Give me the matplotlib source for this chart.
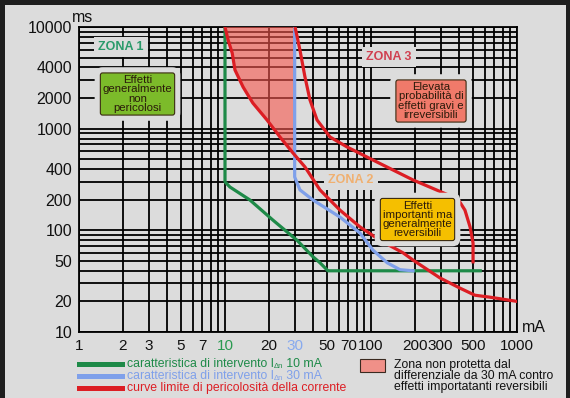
import matplotlib.pyplot as plt
from matplotlib.patches import Rectangle
from matplotlib.lines import Line2D
from matplotlib.ticker import FixedLocator, NullFormatter

plt.rcParams['font.family'] = ['Liberation Sans', 'DejaVu Sans']

# tick values / labels
x_ticks = [1, 2, 3, 5, 7, 10, 20, 30, 50, 70, 100, 200, 300, 500, 1000]
x_labels = ['1', '2', '3', '5', '7', '10', '20', '30', '50', '70', '100', '200', '300', '500', '1000']
y_ticks = [10, 20, 50, 100, 200, 400, 1000, 2000, 4000, 10000]
y_labels = ['10', '20', '50', '100', '200', '400', '1000', '2000', '4000', '10000']

# curves (mA, ms)
green_x = [10, 10, 10.8, 14.8, 21.3, 31.1, 40, 44.7, 50.7, 560]
green_y = [10000, 300, 267, 199, 126, 80, 55, 48, 40, 40]

blue_x = [30, 30, 32.6, 40, 61.3, 84.1, 103, 129, 158, 194]
blue_y = [10000, 335, 250, 199, 135, 94, 64, 48, 41, 40]

red1_x = [10, 10.5, 11.2, 11.7, 13.3, 15.5, 19.4, 23.8, 29.2, 35.3, 44.7, 61.3,
          84.1, 115, 166, 194, 297, 407, 515, 653, 1000]
red1_y = [10000, 7450, 5550, 3780, 2570, 1790, 1217, 828, 577, 420, 250, 158,
          108, 80, 60, 51, 34, 27, 23, 22, 20]

red2_x = [30.2, 32.6, 35.3, 38.2, 42.7, 52.4, 68.5, 103, 194, 394, 440, 477, 500, 500]
red2_y = [10000, 5940, 3220, 1915, 1217, 828, 661, 492, 313, 203, 158, 108, 75, 49]

# unprotected zone (between red limit curve and 30 mA line)
zone_x = [10, 10.5, 11.2, 11.7, 13.3, 15.5, 19.4, 23.8, 29.2, 30, 30]
zone_y = [10000, 7450, 5550, 3780, 2570, 1790, 1217, 828, 577, 550, 10000]

W, H = 570, 398
BG = '#dcdcdc'
GREEN = '#1e8a48'
BLUE = '#7fa0ea'
RED = '#dc1e24'


def fx(x):
    return x / W


def fy(y):
    return 1 - y / H


fig = plt.figure(figsize=(W / 100, H / 100), dpi=100, facecolor='#1e1e1e')
fig.add_artist(Rectangle((fx(5), 0), fx(566) - fx(5), fy(5), transform=fig.transFigure,
                         facecolor=BG, edgecolor='none', zorder=-10))

ax = fig.add_axes([fx(79), fy(332), fx(517) - fx(79), fy(27) - fy(332)])
ax.set_facecolor('none')
ax.set_xscale('log')
ax.set_yscale('log')
ax.set_xlim(1, 1000)
ax.set_ylim(10, 10000)

x_grid = [m * 10 ** k for k in range(3) for m in range(1, 10)]
y_grid = [m * 10 ** k for k in range(1, 4) for m in range(1, 10)]
ax.xaxis.set_major_locator(FixedLocator(x_ticks))
ax.xaxis.set_minor_locator(FixedLocator(x_grid))
ax.yaxis.set_major_locator(FixedLocator(y_ticks))
ax.yaxis.set_minor_locator(FixedLocator(y_grid))
ax.set_xticklabels(x_labels)
ax.set_yticklabels(y_labels)
ax.xaxis.set_minor_formatter(NullFormatter())
ax.yaxis.set_minor_formatter(NullFormatter())
ax.grid(which='both', color='black', lw=1.3)
ax.tick_params(which='both', length=0)
ax.tick_params(axis='x', labelsize=11, pad=5, labelcolor='#111111')
ax.tick_params(axis='y', labelsize=11.5, pad=5, labelcolor='#111111')
for s in ax.spines.values():
    s.set_color('black')
    s.set_linewidth(1.3)

for lab in ax.get_xticklabels():
    if lab.get_text() == '10':
        lab.set_color('#2a9a50')
    if lab.get_text() == '30':
        lab.set_color('#88aaee')

ax.fill(zone_x, zone_y, color='#f7574e', alpha=0.6, lw=0, zorder=3)
ax.plot(green_x, green_y, color=GREEN, lw=2.3, zorder=4, solid_joinstyle='round')
ax.plot(blue_x, blue_y, color=BLUE, lw=2.3, zorder=4, solid_joinstyle='round')
ax.plot(red1_x, red1_y, color=RED, lw=2.3, zorder=5, solid_joinstyle='round')
ax.plot(red2_x, red2_y, color=RED, lw=2.3, zorder=5, solid_joinstyle='round')

fig.text(fx(83), fy(17), 'ms', fontsize=11.5, ha='center', va='center', color='#111111')
fig.text(fx(522), fy(328), 'mA', fontsize=11.5, ha='left', va='center', color='#111111')

# zone labels
zones = [('ZONA 1', 121, 47, '#2a9a6a'), ('ZONA 3', 389, 57, '#d04050'), ('ZONA 2', 351, 180, '#f0b070')]
for txt, x, y, c in zones:
    fig.text(fx(x), fy(y), txt, fontsize=9, fontweight='bold', color=c, ha='center', va='center',
             bbox=dict(boxstyle='square,pad=0.35', fc=BG, ec='none'))

boxes = [('Effetti\ngeneralmente\nnon\npericolosi', 137.5, 94, '#7cbb2a'),
         ('Elevata\nprobabilità di\neffetti gravi e\nirreversibili', 431, 101, '#f07a6a'),
         ('Effetti\nimportanti ma\ngeneralmente\nreversibili', 417.5, 219.5, '#f5bf00')]
for txt, x, y, c in boxes:
    fig.text(fx(x), fy(y), txt, fontsize=8.2, color='none', ha='center', va='center',
             linespacing=0.9, bbox=dict(boxstyle='round,pad=0.7', fc=BG, ec='none'))
    fig.text(fx(x), fy(y), txt, fontsize=8.2, color='#2a1a0a', ha='center', va='center',
             linespacing=0.9, bbox=dict(boxstyle='round,pad=0.2', fc=c, ec='#3a2a10', lw=0.8))

# legend
leg = [(GREEN, 'caratteristica di intervento I', ' 10 mA', 364),
       (BLUE, 'caratteristica di intervento I', ' 30 mA', 376),
       (RED, 'curve limite di pericolosità della corrente', None, 388)]
fig.canvas.draw()
rend = fig.canvas.get_renderer()
for c, txt, tail, y in leg:
    fig.add_artist(Line2D([fx(79), fx(122)], [fy(y), fy(y)], transform=fig.transFigure,
                          color=c, lw=3.6))
    t = fig.text(fx(127), fy(y), txt, fontsize=8.8, color=c, ha='left', va='center')
    if tail is None:
        continue
    x_end = t.get_window_extent(rend).x1
    s = fig.text(x_end / W, fy(y + 2), '\u0394n', fontsize=5.5, color=c, ha='left', va='center')
    x_end = s.get_window_extent(rend).x1
    fig.text(x_end / W, fy(y), tail, fontsize=8.8, color=c, ha='left', va='center')

fig.add_artist(Rectangle((fx(360), fy(372)), fx(385) - fx(360), fy(359) - fy(372),
                         transform=fig.transFigure, facecolor='#f09088', edgecolor='#3a2a20', lw=0.8))
fig.text(fx(394), fy(376), 'Zona non protetta dal\ndifferenziale da 30 mA contro\neffetti importatanti reversibili',
         fontsize=8.8, color='#111111', ha='left', va='center', linespacing=0.92)

fig.savefig('out.png', dpi=100, facecolor=fig.get_facecolor())
